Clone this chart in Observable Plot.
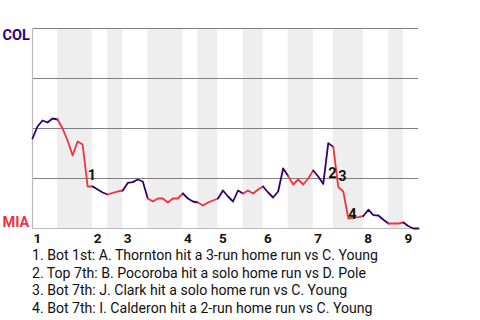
<!DOCTYPE html>
<html>
<head>
<meta charset="utf-8">
<script src="https://cdn.jsdelivr.net/npm/d3@7"></script>
<script src="https://cdn.jsdelivr.net/npm/@observablehq/plot@0.6"></script>
<style>
  body { margin: 0; background: #fff; font-family: Roboto, sans-serif; }
  #caption { padding-left: 32px; font-size: 14.1px; line-height: 17.7px; color: #111; margin-top: 2px; }
</style>
</head>
<body>
<div id="chart"></div>
<div id="caption"></div>
<script>
// Win probability for COL (1 = COL wins, 0 = MIA wins), one value per event
const winProb = [
  0.45, 0.51, 0.54, 0.53, 0.55, 0.545, 0.50, 0.44, 0.365, 0.435,
  0.42, 0.21, 0.21, 0.195, 0.18, 0.17, 0.178, 0.185, 0.19, 0.228,
  0.232, 0.245, 0.235, 0.15, 0.135, 0.15, 0.15, 0.13, 0.15, 0.15,
  0.175, 0.15, 0.135, 0.13, 0.115, 0.13, 0.14, 0.15, 0.19, 0.16,
  0.135, 0.19, 0.175, 0.19, 0.175, 0.195, 0.21, 0.18, 0.155, 0.185,
  0.30, 0.262, 0.22, 0.245, 0.22, 0.25, 0.29, 0.26, 0.223, 0.427,
  0.408, 0.207, 0.185, 0.05, 0.055, 0.057, 0.0625, 0.094, 0.067, 0.065,
  0.0435, 0.025, 0.025, 0.025, 0.03, 0.011, 0.0, 0.0
];
// Half-inning boundaries (event index); even halves = top (COL bats), odd = bottom (MIA bats)
const halfBounds = [0, 5, 12, 15, 18, 23, 30, 33, 37, 42, 46, 51, 56, 60, 66, 71, 74, 77];
const innings = [1, 2, 3, 4, 5, 6, 7, 8, 9];
const inningStart = [0, 12, 18, 30, 37, 46, 56, 66, 74];
const teams = ["COL", "MIA"];
const teamColors = ["#33006f", "#ef3340"];
// Annotated events: label, event index, label height
const noteLabels = ["1", "2", "3", "4"];
const noteIndex = [11, 59, 61, 63];
const noteY = [0.245, 0.255, 0.24, 0.05];
const captions = [
  "1. Bot 1st: A. Thornton hit a 3-run home run vs C. Young",
  "2. Top 7th: B. Pocoroba hit a solo home run vs D. Pole",
  "3. Bot 7th: J. Clark hit a solo home run vs C. Young",
  "4. Bot 7th: I. Calderon hit a 2-run home run vs C. Young"
];

// build tables
const halves = [];
for (let h = 0; h < halfBounds.length - 1; h++) {
  halves.push({h, x1: halfBounds[h], x2: halfBounds[h + 1], team: teams[h % 2]});
}
const linePts = [];
halves.forEach(hv => {
  for (let i = hv.x1; i <= hv.x2; i++) linePts.push({h: hv.h, i, p: winProb[i], team: hv.team});
});
const notes = noteLabels.map((t, k) => ({t, x: noteIndex[k], y: noteY[k]}));
const inningLabels = innings.map((n, k) => ({n, x: inningStart[k]}));

const chart = Plot.plot({
  width: 480,
  height: 245,
  marginLeft: 32,
  marginRight: 62,
  marginTop: 28,
  marginBottom: 17,
  style: {fontFamily: "Roboto, sans-serif", background: "#fff"},
  x: {domain: [0, 77], axis: null},
  y: {domain: [0, 1], axis: null},
  color: {domain: teams, range: teamColors},
  marks: [
    Plot.rect(halves.filter(d => d.h % 2 === 1), {x1: "x1", x2: "x2", y1: 0, y2: 1, fill: "#eeeeee"}),
    Plot.ruleY([0.25, 0.5, 0.75, 1], {stroke: "#808080", strokeWidth: 1.2}),
    Plot.ruleY([0], {stroke: "#bbbbbb", strokeWidth: 1.2}),
    Plot.ruleX([0], {y1: 0, y2: 1, stroke: "#bbbbbb", strokeWidth: 1.2}),
    Plot.line(linePts, {x: "i", y: "p", z: "h", stroke: "team", strokeWidth: 1.8, strokeLinejoin: "round"}),
    Plot.text(notes, {x: "x", y: "y", text: "t", textAnchor: "start", lineAnchor: "bottom", fontSize: 14.5, fontWeight: "bold", fill: "#111"}),
    Plot.text(inningLabels, {x: "x", y: 0, text: "n", textAnchor: "start", lineAnchor: "top", dy: 5, dx: 1, fontSize: 13.5, fontWeight: "bold", fill: "#111"}),
    Plot.text([teams[0]], {x: 0, y: 1, text: d => d, textAnchor: "start", lineAnchor: "top", dx: -30, dy: 1, fontSize: 14.5, fontWeight: "bold", fill: teamColors[0]}),
    Plot.text([teams[1]], {x: 0, y: 0, text: d => d, textAnchor: "start", lineAnchor: "bottom", dx: -30, dy: -2, fontSize: 14.5, fontWeight: "bold", fill: teamColors[1]})
  ]
});
document.getElementById("chart").appendChild(chart);
const cap = document.getElementById("caption");
captions.forEach(c => { const d = document.createElement("div"); d.textContent = c; cap.appendChild(d); });
</script>
</body>
</html>
